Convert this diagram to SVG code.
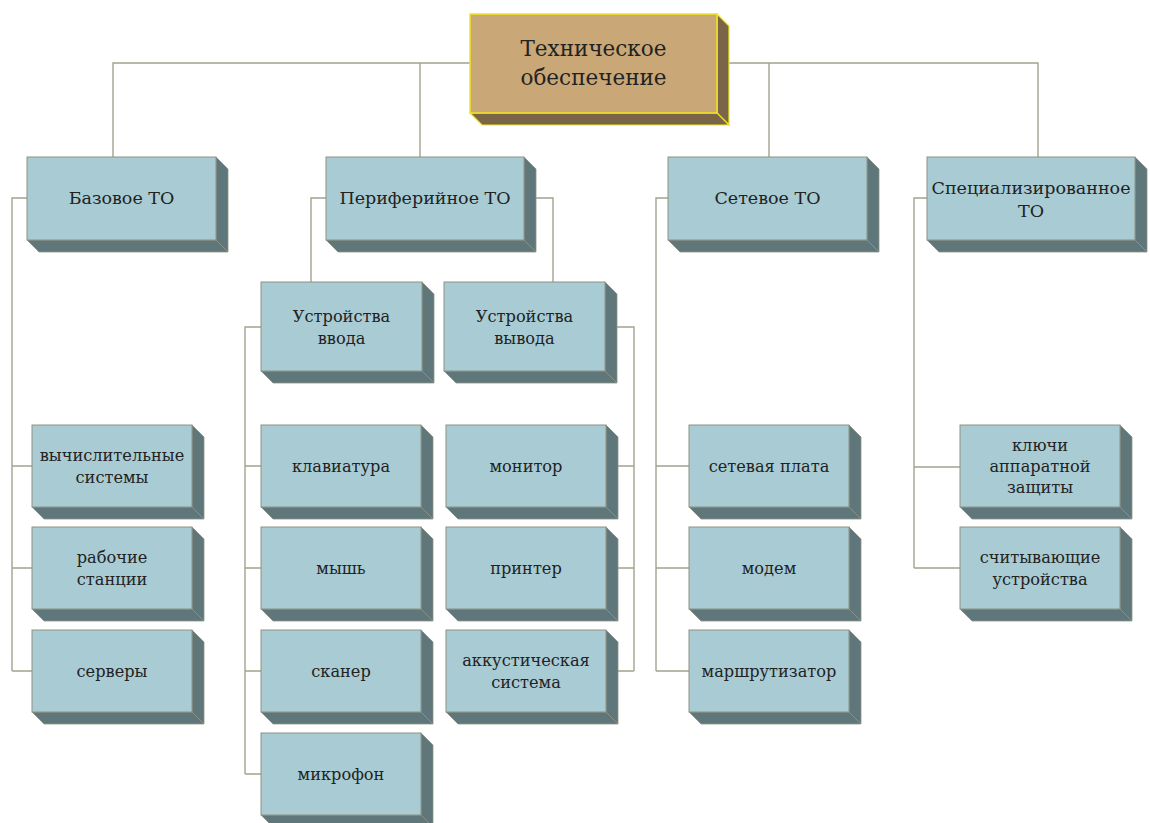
<svg xmlns="http://www.w3.org/2000/svg" xmlns:xlink="http://www.w3.org/1999/xlink" width="1150" height="823" viewBox="0 0 1150 823">
<style>
.front{fill:#a8cbd4;stroke:#8d9284;stroke-width:1}
.side{fill:#5f777b;stroke:#8d9284;stroke-width:0.8}
.tfront{fill:#c9a776;stroke:#f2e41c;stroke-width:1.5}
.tside{fill:#7a6548;stroke:#f2e41c;stroke-width:1.2}
.conn{fill:none;stroke:#a3a38f;stroke-width:1.4}
text{font-family:"DejaVu Serif","Liberation Serif",serif;fill:#222222;text-anchor:middle;dominant-baseline:central}
.t0{font-size:21.5px}
.t1{font-size:17.5px}
.t2{font-size:16.2px}
</style>
<defs>
<g id="leaf">
<polygon class="side" points="160,0 172,12 172,94 160,82"/>
<polygon class="side" points="0,82 160,82 172,94 12,94"/>
<rect class="front" x="0" y="0" width="160" height="82"/>
</g>
<g id="mid">
<polygon class="side" points="161,0 173,12 173,101 161,89"/>
<polygon class="side" points="0,89 161,89 173,101 12,101"/>
<rect class="front" x="0" y="0" width="161" height="89"/>
</g>
</defs>
<rect x="0" y="0" width="1150" height="823" fill="#ffffff"/>
<g id="connectors">
<path class="conn" d="M113,157 V63 H470 M420,63 V157 M717,63 H1038 V157 M769,63 V157"/>
<path class="conn" d="M27,198 H12 V671 M12,466 H32 M12,568 H32 M12,671 H32"/>
<path class="conn" d="M326,198 H311 V282 M524,198 H553 V282"/>
<path class="conn" d="M261,327 H245 V774 M245,466 H261 M245,568 H261 M245,671 H261 M245,774 H261"/>
<path class="conn" d="M605,327 H634 V671 M606,466 H634 M606,568 H634 M606,671 H634"/>
<path class="conn" d="M668,198 H656 V671 M656,466 H689 M656,568 H689 M656,671 H689"/>
<path class="conn" d="M927,198 H914 V568 M914,467 H960 M914,568 H960"/>
</g>
<g id="root">
<polygon class="tside" points="717,14 729,26 729,125 717,113"/>
<polygon class="tside" points="470,113 717,113 729,125 482,125"/>
<rect class="tfront" x="470" y="14" width="247" height="99"/>
<text class="t0" x="593.5" y="48">Техническое</text>
<text class="t0" x="593.5" y="77">обеспечение</text>
</g>
<g id="bazovoe">
<polygon class="side" points="216,157 228,169 228,252 216,240"/>
<polygon class="side" points="27,240 216,240 228,252 39,252"/>
<rect class="front" x="27" y="157" width="189" height="83"/>
<text class="t1" x="121.5" y="198">Базовое ТО</text>
</g>
<g id="periferiynoe">
<polygon class="side" points="524,157 536,169 536,252 524,240"/>
<polygon class="side" points="326,240 524,240 536,252 338,252"/>
<rect class="front" x="326" y="157" width="198" height="83"/>
<text class="t1" x="425" y="198">Периферийное ТО</text>
</g>
<g id="setevoe">
<polygon class="side" points="867,157 879,169 879,252 867,240"/>
<polygon class="side" points="668,240 867,240 879,252 680,252"/>
<rect class="front" x="668" y="157" width="199" height="83"/>
<text class="t1" x="767.5" y="198">Сетевое ТО</text>
</g>
<g id="spec">
<polygon class="side" points="1135,157 1147,169 1147,252 1135,240"/>
<polygon class="side" points="927,240 1135,240 1147,252 939,252"/>
<rect class="front" x="927" y="157" width="208" height="83"/>
<text class="t1" x="1031" y="188">Специализированное</text>
<text class="t1" x="1031" y="211">ТО</text>
</g>
<g id="vvod">
<use xlink:href="#mid" x="261" y="282"/>
<text class="t2" x="341.5" y="316">Устройства</text>
<text class="t2" x="341.5" y="338">ввода</text>
</g>
<g id="vyvod">
<use xlink:href="#mid" x="444" y="282"/>
<text class="t2" x="524.5" y="316">Устройства</text>
<text class="t2" x="524.5" y="338">вывода</text>
</g>
<g id="vych">
<use xlink:href="#leaf" x="32" y="425"/>
<text class="t2" x="112" y="455">вычислительные</text>
<text class="t2" x="112" y="477">системы</text>
</g>
<g id="rabochie">
<use xlink:href="#leaf" x="32" y="527"/>
<text class="t2" x="112" y="557">рабочие</text>
<text class="t2" x="112" y="579">станции</text>
</g>
<g id="servery">
<use xlink:href="#leaf" x="32" y="630"/>
<text class="t2" x="112" y="671">серверы</text>
</g>
<g id="klav">
<use xlink:href="#leaf" x="261" y="425"/>
<text class="t2" x="341" y="466">клавиатура</text>
</g>
<g id="mysh">
<use xlink:href="#leaf" x="261" y="527"/>
<text class="t2" x="341" y="568">мышь</text>
</g>
<g id="skaner">
<use xlink:href="#leaf" x="261" y="630"/>
<text class="t2" x="341" y="671">сканер</text>
</g>
<g id="mikrofon">
<use xlink:href="#leaf" x="261" y="733"/>
<text class="t2" x="341" y="774">микрофон</text>
</g>
<g id="monitor">
<use xlink:href="#leaf" x="446" y="425"/>
<text class="t2" x="526" y="466">монитор</text>
</g>
<g id="printer">
<use xlink:href="#leaf" x="446" y="527"/>
<text class="t2" x="526" y="568">принтер</text>
</g>
<g id="akust">
<use xlink:href="#leaf" x="446" y="630"/>
<text class="t2" x="526" y="660">аккустическая</text>
<text class="t2" x="526" y="682">система</text>
</g>
<g id="setplata">
<use xlink:href="#leaf" x="689" y="425"/>
<text class="t2" x="769" y="466">сетевая плата</text>
</g>
<g id="modem">
<use xlink:href="#leaf" x="689" y="527"/>
<text class="t2" x="769" y="568">модем</text>
</g>
<g id="marshrut">
<use xlink:href="#leaf" x="689" y="630"/>
<text class="t2" x="769" y="671">маршрутизатор</text>
</g>
<g id="klyuchi">
<use xlink:href="#leaf" x="960" y="425"/>
<text class="t2" x="1040" y="445">ключи</text>
<text class="t2" x="1040" y="466">аппаратной</text>
<text class="t2" x="1040" y="487">защиты</text>
</g>
<g id="schit">
<use xlink:href="#leaf" x="960" y="527"/>
<text class="t2" x="1040" y="557">считывающие</text>
<text class="t2" x="1040" y="579">устройства</text>
</g>
</svg>
